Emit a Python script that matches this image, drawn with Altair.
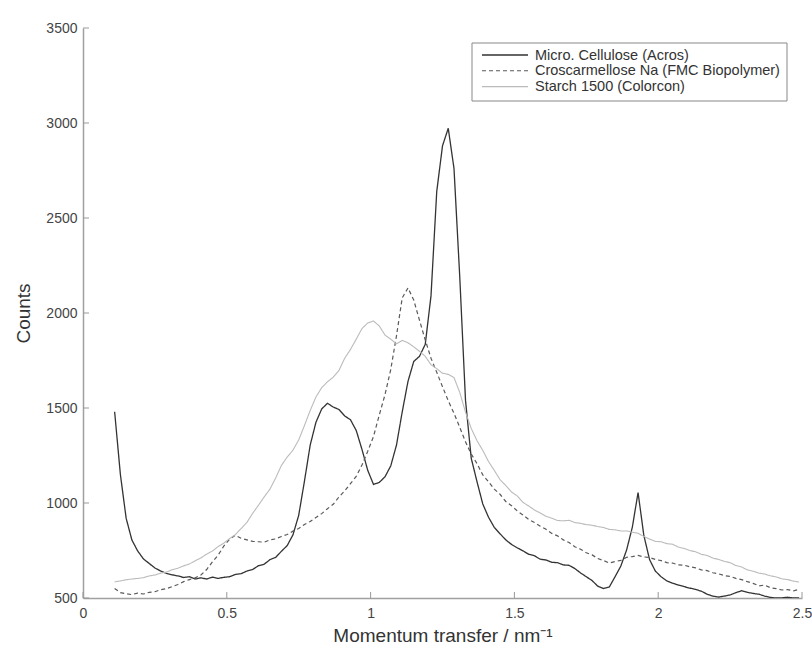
import altair as alt
import pandas as pd

# Sampling grid (momentum transfer, nm^-1), step 0.02 from 0.11 to 2.49
q = [round(0.11 + 0.02 * i, 2) for i in range(120)]

cellulose = [
    1480, 1150, 920, 805, 748, 706, 682, 658, 642, 630,
    622, 616, 608, 612, 600, 606, 600, 610, 603, 609,
    612, 624, 628, 642, 650, 670, 678, 702, 714, 746,
    776, 832, 935, 1115, 1305, 1425, 1495, 1525, 1505, 1492,
    1458, 1438, 1382, 1282, 1172, 1098, 1108, 1138, 1195, 1305,
    1480, 1640, 1745, 1772, 1835, 2090, 2640, 2880, 2972, 2760,
    2190, 1540, 1235, 1112, 995, 925, 872, 838, 806, 782,
    764, 748, 730, 722, 704, 700, 688, 686, 674, 672,
    655, 632, 612, 592, 562, 550, 558, 612, 668, 752,
    872, 1055, 830, 702, 642, 612, 590, 578, 568, 560,
    552, 545, 536, 520, 510, 505, 510, 516, 528, 538,
    530, 524, 520, 510, 503, 500, 501, 504, 500, 500,
]

croscarmellose = [
    550, 528, 522, 518, 526, 521, 530, 533, 544, 549,
    560, 571, 586, 597, 606, 621, 650, 690, 726, 774,
    810, 830, 814, 806, 798, 796, 794, 806, 811, 824,
    834, 852, 866, 887, 903, 924, 944, 970, 993, 1032,
    1064, 1102, 1140, 1200, 1272, 1350, 1462, 1570, 1702, 1880,
    2080, 2132, 2068, 1962, 1858, 1762, 1688, 1612, 1538, 1472,
    1398, 1322, 1258, 1207, 1148, 1112, 1073, 1046, 1008, 986,
    958, 937, 913, 897, 878, 862, 840, 827, 806, 792,
    770, 757, 738, 727, 708, 697, 684, 692, 698, 714,
    718, 724, 716, 713, 703, 697, 686, 684, 674, 673,
    664, 659, 648, 644, 633, 627, 618, 614, 603, 597,
    586, 577, 564, 568, 554, 549, 542, 544, 538, 545,
]

starch = [
    585, 590, 596, 600, 603, 607, 616, 621, 631, 636,
    649, 657, 669, 679, 696, 711, 731, 747, 771, 789,
    813, 834, 866, 898, 946, 988, 1032, 1073, 1132, 1198,
    1242, 1278, 1332, 1408, 1487, 1558, 1607, 1638, 1662, 1698,
    1762, 1808, 1862, 1918, 1947, 1958, 1932, 1884, 1862, 1838,
    1856, 1843, 1822, 1798, 1772, 1728, 1707, 1683, 1677, 1660,
    1582, 1478, 1392, 1328, 1277, 1218, 1172, 1123, 1092, 1058,
    1037, 1003, 984, 963, 947, 930, 920, 908, 906, 909,
    897, 893, 886, 883, 876, 871, 861, 859, 853, 853,
    846, 841, 824, 810, 798, 796, 786, 783, 768, 761,
    750, 743, 730, 724, 710, 703, 693, 686, 671, 663,
    648, 641, 631, 626, 617, 611, 601, 597, 589, 584,
]

series_names = [
    "Micro. Cellulose (Acros)",
    "Croscarmellose Na (FMC Biopolymer)",
    "Starch 1500 (Colorcon)",
]
series_colors = ["#333333", "#5a5a5a", "#bbbbbb"]
series_dash = [[1, 0], [4, 3], [1, 0]]
series_width = [1.3, 1.1, 1.1]

x_ticks = [0, 0.5, 1, 1.5, 2, 2.5]
y_ticks = [500, 1000, 1500, 2000, 2500, 3000, 3500]

rows = []
for name, vals in zip(series_names, [cellulose, croscarmellose, starch]):
    for xv, yv in zip(q, vals):
        rows.append({"series": name, "q": xv, "counts": yv})
df = pd.DataFrame(rows)

W, H = 719, 570
FONT = "Liberation Sans"

xscale = alt.Scale(domain=[0, 2.5], nice=False, zero=False)
yscale = alt.Scale(domain=[500, 3500], nice=False, zero=False)

lines = alt.Chart(df).mark_line(clip=True).encode(
    x=alt.X("q:Q", scale=xscale,
            axis=alt.Axis(values=x_ticks, title="Momentum transfer / nm⁻¹",
                          format="~g", ticks=False, grid=False, labelPadding=8,
                          titlePadding=6)),
    y=alt.Y("counts:Q", scale=yscale,
            axis=alt.Axis(values=y_ticks, title="Counts", format="d", ticks=False,
                          grid=False, labelPadding=6, titlePadding=12)),
    color=alt.Color("series:N",
                    scale=alt.Scale(domain=series_names, range=series_colors),
                    legend=None),
    strokeDash=alt.StrokeDash("series:N",
                              scale=alt.Scale(domain=series_names, range=series_dash),
                              legend=None),
    strokeWidth=alt.StrokeWidth("series:N",
                                scale=alt.Scale(domain=series_names, range=series_width),
                                legend=None),
    order=alt.Order("q:Q"),
)

xt = alt.Chart(pd.DataFrame({"t": x_ticks})).mark_rule(color="#999999", strokeWidth=1).encode(
    x=alt.X("t:Q", scale=xscale), y=alt.value(H), y2=alt.value(H - 6)
)
yt = alt.Chart(pd.DataFrame({"t": y_ticks})).mark_rule(color="#999999", strokeWidth=1).encode(
    y=alt.Y("t:Q", scale=yscale), x=alt.value(0), x2=alt.value(6)
)

# Legend box (drawn by hand, pixel positions inside the plot area)
LX0, LX1, LY0, LY1 = 389, 704, 15, 73
ROW0, ROWSTEP = 27, 15.8
one = pd.DataFrame({"k": [0]})
legend_layers = [
    alt.Chart(one).mark_rect(fill="white", stroke="#888888", strokeWidth=1).encode(
        x=alt.value(LX0), x2=alt.value(LX1), y=alt.value(LY0), y2=alt.value(LY1)
    )
]
for i, (name, col, dash, sw) in enumerate(zip(series_names, series_colors, series_dash, series_width)):
    ry = ROW0 + ROWSTEP * i
    row_df = pd.DataFrame({"label": [name]})
    legend_layers.append(
        alt.Chart(row_df).mark_rule(color=col, strokeWidth=sw, strokeDash=dash).encode(
            x=alt.value(LX0 + 10), x2=alt.value(LX0 + 56), y=alt.value(ry)
        )
    )
    legend_layers.append(
        alt.Chart(row_df).mark_text(align="left", baseline="middle", font=FONT,
                                    fontSize=14.5, color="#333333").encode(
            x=alt.value(LX0 + 63), y=alt.value(ry + 0.5), text="label:N"
        )
    )

chart = alt.layer(lines, xt, yt, *legend_layers).properties(
    width=W, height=H,
    autosize=alt.AutoSizeParams(type="none"),
    padding={"left": 83, "top": 28, "right": 10, "bottom": 52},
).configure_view(stroke=None).configure_axis(
    domainColor="#a0a0a0",
    domainWidth=1.5,
    labelFont=FONT,
    labelFontSize=14,
    labelColor="#444444",
    titleFont=FONT,
    titleFontSize=19,
    titleFontWeight="normal",
    titleColor="#333333",
).configure_axisX(labelFlush=False)

chart.save("out.html", embed_options={"renderer": "svg", "actions": False})
